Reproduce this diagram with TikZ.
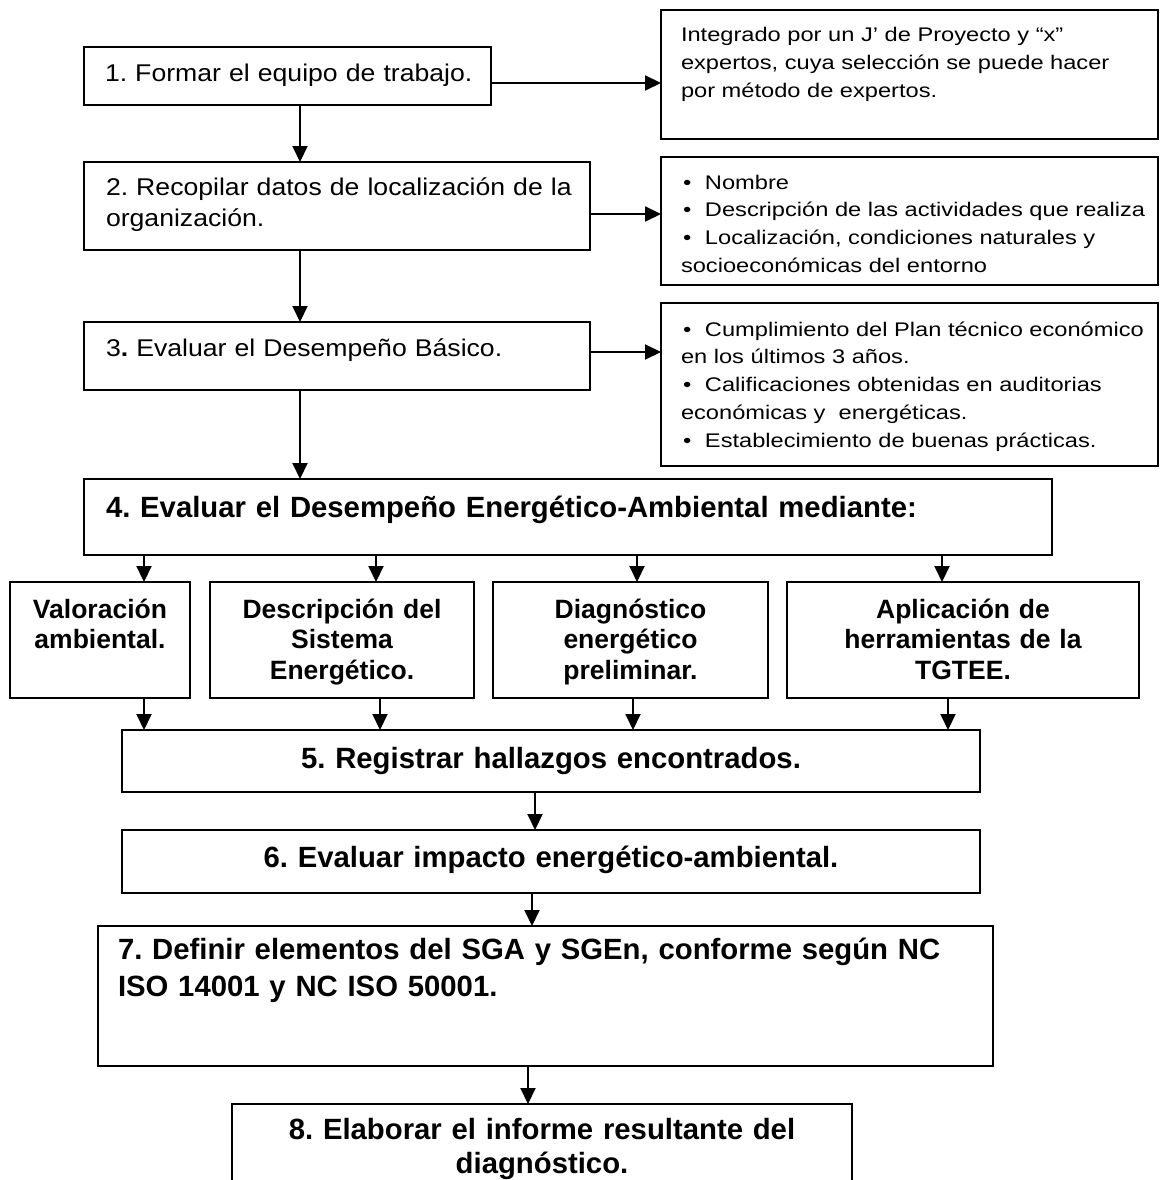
\documentclass[tikz,border=0pt]{standalone}
\usepackage{fontspec}
\setmainfont{Liberation Sans}
\newfontfamily\normfont[FakeStretch=1.1]{Liberation Sans}
\newfontfamily\sidefont[FakeStretch=1.2]{Liberation Sans}
\usetikzlibrary{arrows.meta}
\frenchspacing
\newcommand{\itm}{\makebox[24pt][l]{\hspace{2pt}\textbullet}}
\tikzset{
  box/.style={draw,line width=2pt,outer sep=0pt,inner ysep=0pt,anchor=north west},
  fnorm/.style={font=\normfont\fontsize{24.2}{31}\selectfont},
  fside/.style={font=\sidefont\fontsize{19.7}{27.8}\selectfont},
  fbold/.style={font=\bfseries\fontsize{29.3}{34}\selectfont},
  fsub/.style={font=\bfseries\fontsize{26.5}{30.5}\selectfont},
  flow/.style={-{Triangle[length=16pt,width=15pt]},line width=2pt}
}
\begin{document}
\begin{tikzpicture}[x=1pt,y=-1pt]
  \useasboundingbox (0,0) rectangle (1161,1180);
  \clip (0,0) rectangle (1161,1180);
  \node[box,fnorm,align=left,inner xsep=21pt,text width=365pt,text height=35pt,text depth=23pt] (b1) at (84,47) {\mbox{1. Formar el equipo de trabajo.}};
  \node[box,fnorm,align=left,inner xsep=22pt,text width=462pt,text height=33pt,text depth=55pt] (b2) at (84,162) {\mbox{2. Recopilar datos de localización de la}\\organización.};
  \node[box,fnorm,align=left,inner xsep=22pt,text width=462pt,text height=34pt,text depth=34pt] (b3) at (84,322) {3\textbf{.} Evaluar el Desempeño Básico.};
  \node[box,fbold,align=left,inner xsep=22pt,text width=924pt,text height=38pt,text depth=38pt] (b4) at (84,479) {\mbox{4. Evaluar el Desempeño Energético-Ambiental mediante:}};
  \node[box,fside,align=left,inner xsep=20pt,text width=457pt,text height=32pt,text depth=97pt] (r1) at (661,10) {\mbox{Integrado por un J’ de Proyecto y “x”}\\\mbox{expertos, cuya selección se puede hacer}\\por método de expertos.};
  \node[box,fside,align=left,inner xsep=20pt,text width=457pt,text height=32pt,text depth=96pt] (r2) at (661,157) {\itm Nombre\\\mbox{\itm Descripción de las actividades que realiza}\\\mbox{\itm Localización, condiciones naturales y}\\\mbox{socioeconómicas del entorno}};
  \node[box,fside,align=left,inner xsep=20pt,text width=457pt,text height=33pt,text depth=130pt] (r3) at (661,303) {\mbox{\itm Cumplimiento del Plan técnico económico}\\en los últimos 3 años.\\\mbox{\itm Calificaciones obtenidas en auditorias}\\\mbox{económicas y~ energéticas.}\\\mbox{\itm Establecimiento de buenas prácticas.}};
  \node[box,fsub,align=center,inner xsep=4pt,text width=172pt,text height=36pt,text depth=80pt] (va) at (10,582) {Valoración\\ambiental.};
  \node[box,fsub,align=center,inner xsep=4pt,text width=256pt,text height=36pt,text depth=80pt] (vb) at (210,582) {Descripción del\\Sistema\\Energético.};
  \node[box,fsub,align=center,inner xsep=4pt,text width=267pt,text height=36pt,text depth=80pt] (vc) at (493,582) {Diagnóstico\\energético\\preliminar.};
  \node[box,fsub,align=center,inner xsep=4pt,text width=344pt,text height=36pt,text depth=80pt] (vd) at (787,582) {Aplicación de\\herramientas de la\\TGTEE.};
  \node[box,fbold,align=center,inner xsep=20pt,text width=818pt,text height=38pt,text depth=24pt] (b5) at (122,730) {5. Registrar hallazgos encontrados.};
  \node[box,fbold,align=center,inner xsep=20pt,text width=818pt,text height=37pt,text depth=26pt] (b6) at (122,830) {6. Evaluar impacto energético-ambiental.};
  \node[box,fbold,align=left,inner xsep=20pt,text width=855pt,text height=33pt,text depth=107pt,font=\bfseries\fontsize{29.3}{37}\selectfont] (b7) at (98,926) {\mbox{7. Definir elementos del SGA y SGEn, conforme según NC}\\ISO 14001 y NC ISO 50001.};
  \node[box,fbold,align=center,inner xsep=20pt,text width=580pt,text height=35pt,text depth=80pt] (b8) at (232,1104) {8. Elaborar el informe resultante del\\diagnóstico.};
  \foreach \a/\b/\y in {b1/r1/83,b2/r2/214,b3/r3/352}
    \draw[flow] (\a.east |- 0,\y) -- (\b.west |- 0,\y);
  \foreach \a/\b/\x in {b1/b2/300,b2/b3/300,b3/b4/300,b4/va/144,b4/vb/376,b4/vc/637,b4/vd/942,va/b5/144,vb/b5/380,vc/b5/633,vd/b5/948,b5/b6/535,b6/b7/532,b7/b8/528}
    \draw[flow] (\a.south -| \x,0) -- (\b.north -| \x,0);
\end{tikzpicture}
\end{document}
